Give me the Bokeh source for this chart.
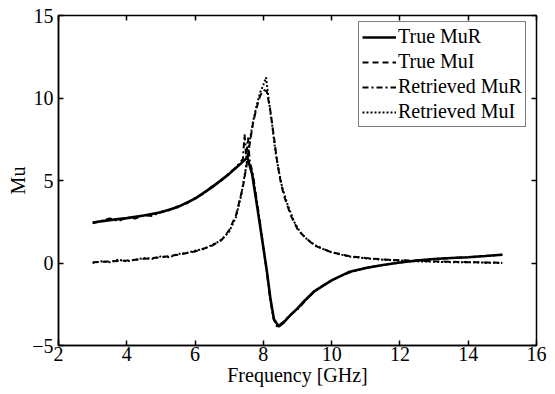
from bokeh.plotting import figure
from bokeh.models import LinearAxis, FixedTicker, Range1d, CustomJSTickFormatter, Legend, LegendItem
from bokeh.embed import file_html
from bokeh.resources import INLINE

# ---- data ----
true_mur_f = [3.0, 3.5, 4.0, 4.5, 5.0, 5.5, 6.0, 6.5, 7.0, 7.3, 7.53, 7.67, 7.82, 7.97, 8.11, 8.21,
              8.31, 8.45, 8.6, 8.75, 9.0, 9.2, 9.5, 10.0, 10.5, 11.0, 11.5, 12.0, 12.5, 13.0, 13.5,
              14.0, 14.5, 15.0]
true_mur = [2.45, 2.6, 2.72, 2.88, 3.08, 3.4, 3.9, 4.6, 5.4, 5.95, 6.4, 5.4, 3.4, 1.35, -0.6, -2.2,
            -3.4, -3.85, -3.6, -3.25, -2.75, -2.3, -1.7, -1.05, -0.55, -0.3, -0.12, 0.03, 0.15, 0.24, 0.3,
            0.35, 0.42, 0.5]

true_mui_f = [3.0, 3.5, 4.0, 4.5, 5.0, 5.5, 6.0, 6.5, 6.8, 7.0, 7.2, 7.4, 7.5, 7.6, 7.7, 7.8, 7.9,
              8.0, 8.1, 8.2, 8.3, 8.4, 8.5, 8.6, 8.8, 9.0, 9.2, 9.5, 10.0, 10.5, 11.0, 11.5, 12.0,
              12.5, 13.0, 14.0, 15.0]
true_mui = [0.05, 0.1, 0.15, 0.25, 0.35, 0.5, 0.7, 1.05, 1.45, 2.0, 2.9, 4.6, 5.8, 7.2, 8.5, 9.4, 10.1,
            10.5, 10.4, 9.3, 7.8, 6.2, 5.0, 4.1, 2.9, 2.05, 1.6, 1.05, 0.65, 0.42, 0.3, 0.22, 0.17,
            0.13, 0.1, 0.05, 0.02]

ret_mur_f = [3.0, 3.25, 3.5, 3.75, 4.0, 4.25, 4.5, 4.75, 5.0, 5.25, 5.5, 5.75, 6.0, 6.25, 6.5, 6.75,
             7.0, 7.2, 7.4, 7.45, 7.5, 7.55, 7.6, 7.7, 7.8, 7.9, 8.0, 8.1, 8.2, 8.3, 8.4, 8.5, 8.6,
             8.75, 9.0, 9.25, 9.5, 9.75, 10.0, 10.25, 10.5, 10.75, 11.0, 11.25, 11.5, 11.75, 12.0,
             12.5, 13.0, 13.5, 14.0, 14.5, 15.0]
ret_mur = [2.4, 2.55, 2.7, 2.55, 2.75, 2.7, 2.9, 2.85, 3.1, 3.2, 3.45, 3.6, 3.95, 4.2, 4.65, 4.95,
           5.45, 5.8, 6.3, 7.8, 6.4, 7.6, 6.2, 5.3, 3.9, 2.5, 1.0, -0.5, -2.2, -3.4, -3.85, -3.7, -3.55,
           -3.2, -2.8, -2.25, -1.7, -1.35, -1.05, -0.8, -0.6, -0.45, -0.3, -0.2, -0.12, -0.05, 0.03,
           0.15, 0.25, 0.3, 0.35, 0.42, 0.5]

ret_mui_f = [3.0, 3.25, 3.5, 3.75, 4.0, 4.25, 4.5, 4.75, 5.0, 5.25, 5.5, 5.75, 6.0, 6.25, 6.5, 6.75,
             7.0, 7.2, 7.35, 7.5, 7.6, 7.7, 7.8, 7.9, 8.0, 8.08, 8.15, 8.25, 8.35, 8.45, 8.55, 8.7,
             8.9, 9.1, 9.3, 9.5, 9.75, 10.0, 10.5, 11.0, 11.5, 12.0, 12.5, 13.0, 13.5, 14.0, 14.5, 15.0]
ret_mui = [0.0, 0.1, 0.05, 0.2, 0.1, 0.2, 0.3, 0.25, 0.4, 0.35, 0.55, 0.6, 0.75, 0.85, 1.1, 1.35,
           1.9, 2.8, 4.1, 5.9, 7.4, 8.6, 9.5, 10.3, 10.8, 11.25, 10.0, 8.5, 6.8, 5.6, 4.6, 3.6,
           2.5, 1.8, 1.4, 1.1, 0.85, 0.65, 0.4, 0.28, 0.2, 0.15, 0.1, 0.08, 0.05, 0.05, 0.02, 0.0]

x_ticks = [2, 4, 6, 8, 10, 12, 14, 16]
y_ticks = [-5, 0, 5, 10, 15]
legend_labels = ["True MuR", "True MuI", "Retrieved MuR", "Retrieved MuI"]

FONT = "Liberation Serif"
FSIZE = "20px"

p = figure(width=555, height=394, output_backend="svg", toolbar_location=None,
           x_range=Range1d(2, 16), y_range=Range1d(-5, 15),
           min_border_left=58, min_border_right=19, min_border_top=15, min_border_bottom=49)
p.grid.visible = False
p.outline_line_color = "black"
p.outline_line_width = 1.5
p.background_fill_color = "white"
p.border_fill_color = "white"

for ax, ticks in ((p.xaxis[0], x_ticks), (p.yaxis[0], y_ticks)):
    ax.ticker = FixedTicker(ticks=ticks)
    ax.major_tick_in = 5
    ax.major_tick_out = 0
    ax.major_tick_line_width = 1.5
    ax.minor_tick_line_color = None
    ax.axis_line_color = "black"
    ax.axis_line_width = 1.5
    ax.major_label_text_font = FONT
    ax.major_label_text_font_size = FSIZE
    ax.major_label_text_color = "black"
    ax.axis_label_text_font = FONT
    ax.axis_label_text_font_size = FSIZE
    ax.axis_label_text_font_style = "normal"
    ax.axis_label_text_color = "black"

p.xaxis[0].axis_label = "Frequency [GHz]"
p.xaxis[0].axis_label_standoff = 0
p.xaxis[0].major_label_standoff = 1
p.yaxis[0].axis_label = "Mu"
p.yaxis[0].axis_label_standoff = 0
p.yaxis[0].major_label_standoff = 5

blank = CustomJSTickFormatter(code="return ''")
top = LinearAxis(ticker=FixedTicker(ticks=x_ticks), formatter=blank, major_tick_in=5, major_tick_out=0,
                 minor_tick_line_color=None, major_label_standoff=0, major_tick_line_width=1.5)
right = LinearAxis(ticker=FixedTicker(ticks=y_ticks), formatter=blank, major_tick_in=5, major_tick_out=0,
                   minor_tick_line_color=None, major_label_standoff=0, major_tick_line_width=1.5)
p.add_layout(top, "above")
p.add_layout(right, "right")

r1 = p.line(true_mur_f, true_mur, line_color="black", line_width=2.6)
r2 = p.line(true_mui_f, true_mui, line_color="black", line_width=2, line_dash="6 4")
r3 = p.line(ret_mur_f, ret_mur, line_color="black", line_width=2, line_dash="6 3 2 3")
r4 = p.line(ret_mui_f, ret_mui, line_color="black", line_width=2, line_dash="2 2")

legend = Legend(items=[LegendItem(label=legend_labels[0], renderers=[r1]),
                       LegendItem(label=legend_labels[1], renderers=[r2]),
                       LegendItem(label=legend_labels[2], renderers=[r3]),
                       LegendItem(label=legend_labels[3], renderers=[r4])],
                location=(300, 218))
legend.label_text_font = FONT
legend.label_text_font_size = FSIZE
legend.label_text_color = "black"
legend.border_line_color = "black"
legend.border_line_width = 1.5
legend.background_fill_alpha = 1
legend.padding = 3
legend.margin = 0
legend.spacing = 2
legend.label_height = 22
legend.glyph_height = 22
legend.glyph_width = 34
legend.label_standoff = 2
p.add_layout(legend, "center")

open("out.html", "w").write(file_html(p, INLINE))
